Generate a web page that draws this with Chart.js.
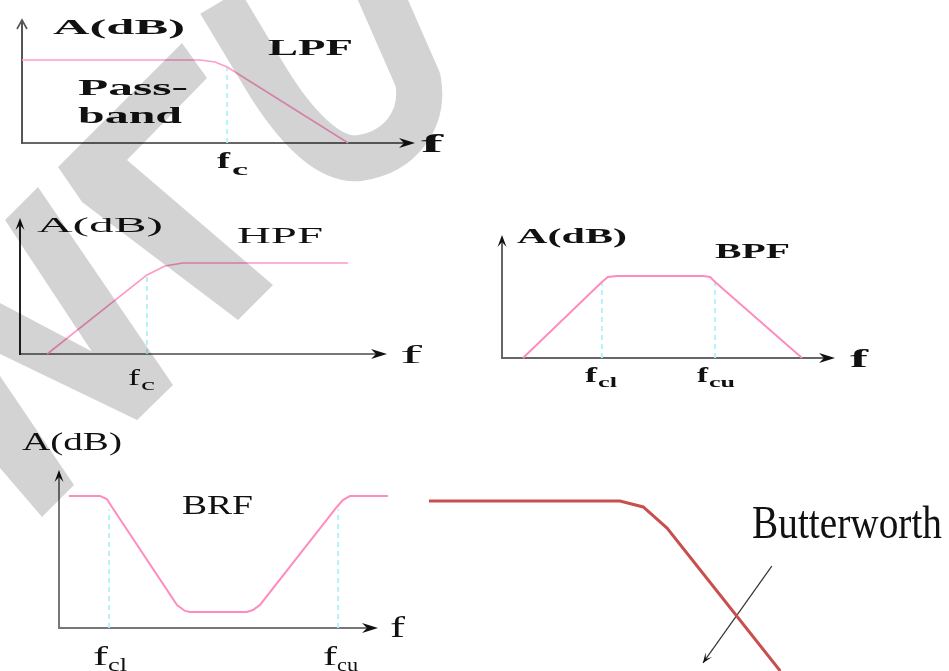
<!DOCTYPE html>
<html>
<head>
<meta charset="utf-8">
<script src="https://cdn.jsdelivr.net/npm/chart.js@4.4.1/dist/chart.umd.min.js"></script>
<style>
html,body{margin:0;padding:0;background:#fff;overflow:hidden}
#page{position:relative;width:949px;height:671px;overflow:hidden;background:#fff}
#page canvas{position:absolute}
#mark{left:0;top:0;opacity:0.17;pointer-events:none;z-index:5}
</style>
</head>
<body>
<div id="page"><canvas id="mark" width="949" height="671"></canvas></div>
<script>
// ---- data (x = % of frequency axis, y = % of gain axis) ----
const lpfX = [0, 45.3, 49.1, 52.2, 83.0];
const lpfY = [67.5, 67.5, 65.9, 61.8, 0];
const lpfCutoffs = [52.2];
const lpfCutLevel = 61.8;

const hpfX = [7.4, 34.6, 39.5, 44.4, 89.4];
const hpfY = [0, 58.1, 64.7, 66.9, 66.9];
const hpfCutoffs = [34.6];
const hpfCutLevel = 58.1;

const bpfX = [6.3, 30.0, 31.8, 34.5, 60.4, 62.5, 64.0, 90.1];
const bpfY = [0, 61.8, 65.9, 66.7, 66.7, 65.9, 61.8, 0];
const bpfCutoffs = [30.0, 64.0];
const bpfCutLevel = 61.8;

const brfX = [3.1, 12.9, 15.0, 16.6, 37.0, 39.5, 41.1, 58.9, 60.8, 63.0, 87.1, 89.0, 91.2, 103.1];
const brfY = [83.5, 83.5, 81.6, 76.6, 14.6, 10.8, 10.1, 10.1, 11.4, 14.6, 76.6, 81.0, 83.5, 83.5];
const brfCutoffs = [15.7, 87.5];
const brfCutLevel = 75;

const bwX = [1.7, 37.8, 42.2, 46.7, 68.1];
const bwY = [84.6, 84.6, 81.6, 71.1, 0];
const bwArrowX = [66.5, 53.5];
const bwArrowY = [52.2, 4.0];

const PINK = '#ff8cc0';
const CYAN = '#b4f2fa';
const RED = '#c94f4f';
const SERIF = '"Liberation Serif", "Times New Roman", serif';

const page = document.getElementById('page');
const mark = document.getElementById('mark');

// text squeezed/stretched horizontally to fit the picture's aspect
function stretchText(ctx, t, x0, x1, base, size, bold){
  ctx.font = (bold ? 'bold ' : '') + size + 'px ' + SERIF;
  const w = ctx.measureText(t).width;
  ctx.save();
  ctx.translate(x0, base);
  ctx.scale((x1 - x0) / w, 1);
  ctx.fillStyle = '#111';
  ctx.textBaseline = 'alphabetic';
  ctx.fillText(t, 0, 0);
  ctx.restore();
}

function arrowHead(ctx, x, y, dx, dy, len, half, color){
  const px = -dy, py = dx;
  ctx.fillStyle = color;
  ctx.beginPath();
  ctx.moveTo(x, y);
  ctx.lineTo(x - len*dx + half*px, y - len*dy + half*py);
  ctx.lineTo(x - (len-5)*dx, y - (len-5)*dy);
  ctx.lineTo(x - len*dx - half*px, y - len*dy - half*py);
  ctx.closePath();
  ctx.fill();
}

function makePanel(p){
  const c = document.createElement('canvas');
  const left = p.box[0] - p.pad, top = p.box[1] - p.pad;
  const w = p.box[2] - p.box[0] + 2*p.pad, h = p.box[3] - p.box[1] + 2*p.pad;
  c.width = w; c.height = h;
  c.style.left = left + 'px'; c.style.top = top + 'px';
  c.style.width = w + 'px'; c.style.height = h + 'px';
  page.insertBefore(c, mark);

  const datasets = [{
    data: p.xs.map((x, i) => ({x, y: p.ys[i]})),
    borderColor: p.color, borderWidth: p.lw, pointRadius: 0, tension: 0, clip: false
  }];
  (p.cuts || []).forEach(x => datasets.push({
    data: [{x, y: 0}, {x, y: p.cutLevel}],
    borderColor: CYAN, borderWidth: 2, borderDash: [5, 4], pointRadius: 0, clip: false
  }));
  if(p.arrowX) datasets.push({
    data: p.arrowX.map((x, i) => ({x, y: p.arrowY[i]})),
    borderColor: '#333', borderWidth: 1.2, pointRadius: 0, clip: false
  });

  const frame = {
    id: 'frame',
    beforeDatasetsDraw(chart){
      if(!p.axes) return;
      const ctx = chart.ctx, sx = chart.scales.x, sy = chart.scales.y;
      const x0 = sx.getPixelForValue(0), x1 = sx.getPixelForValue(100);
      const y0 = sy.getPixelForValue(0), y1 = sy.getPixelForValue(100);
      ctx.save();
      ctx.lineWidth = 2;
      ctx.strokeStyle = p.xAxisColor;
      ctx.beginPath(); ctx.moveTo(x0, y0); ctx.lineTo(x1 - 8, y0); ctx.stroke();
      arrowHead(ctx, x1, y0, 1, 0, 16, 5, '#111');
      ctx.strokeStyle = p.yAxisColor;
      ctx.beginPath(); ctx.moveTo(x0, y0 + 1); ctx.lineTo(x0, y1 + (p.openArrow ? 0 : 6)); ctx.stroke();
      if(p.openArrow){
        ctx.lineWidth = 1.6;
        ctx.beginPath(); ctx.moveTo(x0 - 5, y1 + 9); ctx.lineTo(x0, y1); ctx.lineTo(x0 + 5, y1 + 9); ctx.stroke();
      } else {
        arrowHead(ctx, x0, y1, 0, -1, 12, 4.5, '#111');
      }
      ctx.restore();
    },
    afterDraw(chart){
      const ctx = chart.ctx;
      ctx.save();
      p.texts.forEach(t => stretchText(ctx, t[0], t[1] - left, t[2] - left, t[3] - top, t[4], p.bold));
      if(p.arrowX){
        const sx = chart.scales.x, sy = chart.scales.y;
        const ax = sx.getPixelForValue(p.arrowX[1]), ay = sy.getPixelForValue(p.arrowY[1]);
        const bx = sx.getPixelForValue(p.arrowX[0]), by = sy.getPixelForValue(p.arrowY[0]);
        const d = Math.hypot(ax - bx, ay - by);
        arrowHead(ctx, ax, ay, (ax - bx)/d, (ay - by)/d, 10, 4, '#111');
      }
      ctx.restore();
    }
  };

  new Chart(c, {
    type: 'line',
    data: {datasets},
    options: {
      responsive: false, animation: false, devicePixelRatio: 1, events: [],
      layout: {padding: p.pad},
      plugins: {legend: {display: false}, tooltip: {enabled: false}},
      scales: {
        x: {type: 'linear', min: 0, max: 100, display: false},
        y: {type: 'linear', min: 0, max: 100, display: false}
      }
    },
    plugins: [frame]
  });
}

makePanel({
  box: [22, 20, 415, 143], pad: 50, axes: true, openArrow: true, bold: true,
  xs: lpfX, ys: lpfY, cuts: lpfCutoffs, cutLevel: lpfCutLevel,
  color: '#ff9ccb', lw: 1.6, xAxisColor: '#666', yAxisColor: '#555',
  texts: [['A(dB)', 53, 185, 34, 20], ['LPF', 268, 353, 55, 24], ['Pass-', 78, 188, 95, 23],
          ['band', 78, 182, 123, 24], ['f', 421, 443, 152, 26], ['f', 217, 230, 168, 23], ['c', 232, 248, 175, 16]]
});

makePanel({
  box: [20, 218, 387, 354], pad: 50, axes: true, bold: false,
  xs: hpfX, ys: hpfY, cuts: hpfCutoffs, cutLevel: hpfCutLevel,
  color: '#ff96c8', lw: 1.6, xAxisColor: '#777', yAxisColor: '#222',
  texts: [['A(dB)', 37, 163, 232, 21], ['HPF', 237, 323, 243, 24], ['f', 400, 422, 363, 26],
          ['f', 128, 140, 385, 24], ['c', 141, 155, 390, 16]]
});

makePanel({
  box: [502, 235, 835, 358], pad: 50, axes: true, bold: true,
  xs: bpfX, ys: bpfY, cuts: bpfCutoffs, cutLevel: bpfCutLevel,
  color: PINK, lw: 2, xAxisColor: '#666', yAxisColor: '#666',
  texts: [['A(dB)', 517, 627, 243, 22], ['BPF', 715, 790, 258, 22], ['f', 850, 868, 367, 25],
          ['f', 585, 597, 382, 22], ['cl', 598, 617, 387, 15], ['f', 697, 708, 382, 22], ['cu', 709, 735, 387, 15]]
});

makePanel({
  box: [59, 470, 378, 628], pad: 50, axes: true, bold: false,
  xs: brfX, ys: brfY, cuts: brfCutoffs, cutLevel: brfCutLevel,
  color: PINK, lw: 2, xAxisColor: '#777', yAxisColor: '#777',
  texts: [['A(dB)', 22, 122, 450, 25], ['BRF', 182, 253, 514, 28], ['f', 390, 405, 637, 29],
          ['f', 93, 108, 665, 28], ['cl', 108, 127, 671, 19], ['f', 323, 337, 665, 28], ['cu', 337, 358, 671, 19]]
});

makePanel({
  box: [420, 470, 949, 671], pad: 0, axes: false, bold: false,
  xs: bwX, ys: bwY, arrowX: bwArrowX, arrowY: bwArrowY,
  color: RED, lw: 3,
  texts: [['Butterworth', 752, 942, 538, 46]]
});

// ---- watermark ----
const m = mark.getContext('2d');
m.fillStyle = '#000';
m.strokeStyle = '#000';
[
  [[182,43],[207,78],[127,160],[273,285],[238,320],[82,202],[58,167]],
  [[5,220],[38,187],[173,385],[137,420]],
  [[0,303],[165,390],[137,420],[0,354]],
  [[0,376],[74,485],[42,517],[0,468]]
].forEach(poly => {
  m.beginPath();
  poly.forEach(([x, y], i) => i ? m.lineTo(x, y) : m.moveTo(x, y));
  m.closePath();
  m.fill();
});
m.lineWidth = 46;
m.lineJoin = 'round';
m.beginPath();
m.moveTo(220, 2);
m.lineTo(262, 72);
m.bezierCurveTo(295, 128, 330, 162, 360, 158);
m.bezierCurveTo(400, 152, 425, 120, 418, 80);
m.lineTo(372, -25);
m.stroke();
</script>
</body>
</html>
